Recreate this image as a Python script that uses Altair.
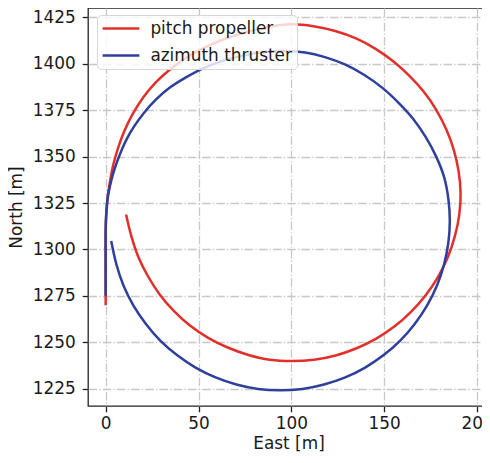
import altair as alt
import pandas as pd

series_names = ["pitch propeller", "azimuth thruster"]
series_colors = ["#e1302a", "#2e3f9c"]

# pitch propeller trajectory (East, North) in metres
pitch_east = [0.0, 0.0, 0.0, 0.15, 0.6, 1.2, 2.4, 4.2, 6.8, 10.2, 14.6, 20.3, 27.5, 36.0, 45.5,
              56.0, 67.5, 80.0, 90.0, 100.3, 111.8, 123.6, 134.8, 145.1, 154.8, 163.4, 171.2,
              177.9, 183.3, 187.4, 190.0, 191.1, 190.4, 188.0, 184.2, 178.9, 172.2, 164.4,
              155.6, 145.7, 135.1, 123.8, 112.2, 100.3, 88.4, 76.9, 65.7, 55.2, 45.4, 36.7,
              29.1, 22.7, 17.5, 13.8, 11.0]
pitch_north = [1270.0, 1290.0, 1305.0, 1315.0, 1322.0, 1329.0, 1337.0, 1346.0, 1355.0, 1364.0,
               1373.0, 1382.0, 1390.5, 1398.0, 1404.5, 1410.0, 1414.5, 1418.0, 1420.2, 1421.2,
               1420.2, 1417.6, 1413.6, 1408.1, 1401.3, 1393.6, 1385.0, 1375.3, 1364.8, 1353.8,
               1342.3, 1330.5, 1318.7, 1307.0, 1295.8, 1285.1, 1275.2, 1266.4, 1258.6, 1252.0,
               1246.8, 1242.9, 1240.6, 1239.9, 1240.6, 1243.2, 1247.2, 1252.4, 1259.0, 1266.9,
               1275.8, 1285.7, 1296.2, 1307.3, 1318.8]

# azimuth thruster trajectory (East, North) in metres
azi_east = [0.0, 0.0, 0.0, 0.2, 0.6, 1.3, 2.4, 3.8, 5.7, 8.2, 11.4, 15.5, 20.6, 26.9, 34.4,
            43.0, 52.5, 63.0, 74.5, 86.0, 97.0, 107.4, 117.6, 128.8, 139.3, 149.0, 157.6,
            165.5, 172.2, 177.9, 182.2, 184.5, 185.3, 184.5, 182.2, 178.4, 173.1, 166.5,
            158.6, 149.7, 139.7, 129.0, 117.6, 105.9, 94.0, 82.1, 70.4, 59.2, 48.4, 38.4,
            29.4, 21.6, 14.9, 9.6, 5.8, 3.0]
azi_north = [1275.0, 1295.0, 1310.0, 1317.0, 1323.5, 1329.0, 1334.5, 1340.0, 1346.0, 1352.5,
             1359.5, 1366.5, 1373.5, 1380.5, 1387.0, 1392.5, 1397.5, 1401.5, 1404.5, 1406.3,
             1406.8, 1406.0, 1403.7, 1399.6, 1393.9, 1387.0, 1379.1, 1370.4, 1360.7, 1350.1,
             1339.1, 1327.4, 1315.5, 1303.6, 1291.9, 1280.6, 1269.9, 1260.0, 1250.9, 1243.1,
             1236.4, 1231.1, 1227.3, 1224.9, 1224.2, 1224.9, 1227.3, 1231.1, 1236.4, 1243.1,
             1250.9, 1260.0, 1269.9, 1280.6, 1291.9, 1304.5]

x_ticks = [0, 50, 100, 150, 200]
y_ticks = [1225, 1250, 1275, 1300, 1325, 1350, 1375, 1400, 1425]

rows = []
for i, (e, n) in enumerate(zip(pitch_east, pitch_north)):
    rows.append({"series": series_names[0], "east": e, "north": n, "idx": i})
for i, (e, n) in enumerate(zip(azi_east, azi_north)):
    rows.append({"series": series_names[1], "east": e, "north": n, "idx": i})
df = pd.DataFrame(rows)

FONT = "DejaVu Sans"
FS = 16.9
INK = "#1a1a1a"

chart = alt.Chart(df).mark_line(strokeWidth=2.5, clip=True, interpolate="catmull-rom").encode(
    x=alt.X("east:Q", title="East [m]",
            scale=alt.Scale(domain=[-9.5, 206.4], nice=False, zero=False),
            axis=alt.Axis(values=x_ticks, format="d", labelPadding=4, titlePadding=4)),
    y=alt.Y("north:Q", title="North [m]",
            scale=alt.Scale(domain=[1215.7, 1430.0], nice=False, zero=False),
            axis=alt.Axis(values=y_ticks, format="d", labelPadding=7, titlePadding=7)),
    color=alt.Color("series:N", sort=series_names,
                    scale=alt.Scale(domain=series_names, range=series_colors),
                    legend=alt.Legend(title=None, orient="none", legendX=9, legendY=7,
                                      symbolType="stroke", symbolSize=1350, symbolOffset=-1,
                                      symbolStrokeWidth=2.5, clipHeight=17, rowPadding=9,
                                      labelOffset=9.4, labelFontSize=FS, labelFont=FONT,
                                      labelColor=INK, padding=5,
                                      fillColor="rgba(255,255,255,0.8)",
                                      strokeColor="#d6d6d6", cornerRadius=4)),
    order=alt.Order("idx:Q"),
).properties(
    width=401, height=398,
    autosize=alt.AutoSizeParams(type="none"),
    padding={"left": 80, "top": 0, "right": -7, "bottom": 49},
).configure_view(
    stroke="#222222", strokeWidth=1.3
).configure_axis(
    domain=False,
    grid=True, gridColor="#c8c8c8", gridWidth=1.3, gridDash=[8.5, 2.2, 1.3, 2.2],
    ticks=True, tickColor="#222222", tickSize=5.8, tickWidth=1.3,
    labelFont=FONT, labelFontSize=FS, labelColor=INK,
    titleFont=FONT, titleFontSize=FS, titleColor=INK, titleFontWeight="normal",
)

chart.save("out.html", embed_options={"renderer": "svg", "actions": False})
